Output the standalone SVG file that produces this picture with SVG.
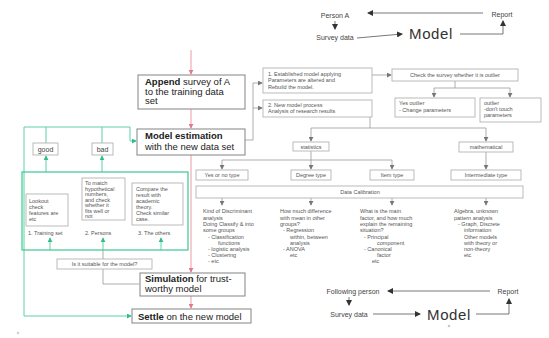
<svg xmlns="http://www.w3.org/2000/svg" width="549" height="338" viewBox="0 0 549 338">
  <style>
    .t { font-family: "Liberation Sans", Arial, sans-serif; fill: #333; }
    .s { font-size: 5.5px; fill: #555; }
    .m { font-size: 9.5px; fill: #222; }
    .b { font-weight: bold; }
    .lbl { font-size: 7px; fill: #444; }
    .big { font-size: 15px; fill: #333; letter-spacing: 0.6px; }
    .box { fill: #fff; stroke: #b3b3b3; stroke-width: 0.9; }
    .mbox { fill: #fff; stroke: #8f8f8f; stroke-width: 1.1; }
    .gbox { fill: none; stroke: #3fc795; stroke-width: 1.2; }
    .c { fill: none; stroke: #9a9a9a; stroke-width: 0.8; }
    .ck { fill: none; stroke: #555; stroke-width: 0.8; }
    .g { fill: none; stroke: #5fd1a6; stroke-width: 1; }
    .r { fill: none; stroke: #ec9aa8; stroke-width: 1; }
  </style>
  <defs>
    <marker id="ag" viewBox="0 0 6 6" refX="5" refY="3" markerWidth="5" markerHeight="5" orient="auto" markerUnits="userSpaceOnUse">
      <path d="M0,0 L6,3 L0,6 z" fill="#777"/>
    </marker>
    <marker id="ak" viewBox="0 0 6 6" refX="5" refY="3" markerWidth="6" markerHeight="6" orient="auto" markerUnits="userSpaceOnUse">
      <path d="M0,0 L6,3 L0,6 z" fill="#333"/>
    </marker>
    <marker id="agr" viewBox="0 0 6 6" refX="5" refY="3" markerWidth="5" markerHeight="5" orient="auto" markerUnits="userSpaceOnUse">
      <path d="M0,0 L6,3 L0,6 z" fill="#2fbf86"/>
    </marker>
    <marker id="ar" viewBox="0 0 6 6" refX="5" refY="3" markerWidth="5" markerHeight="5" orient="auto" markerUnits="userSpaceOnUse">
      <path d="M0,0 L6,3 L0,6 z" fill="#e07a8c"/>
    </marker>
  </defs>

  <!-- connectors -->
  <g id="connectors">
    <!-- top cycle -->
    <line class="ck" x1="483" y1="13" x2="368" y2="13" marker-end="url(#ak)"/>
    <line class="ck" x1="335" y1="21" x2="335" y2="29" marker-end="url(#ak)"/>
    <line class="ck" x1="357" y1="38" x2="402" y2="34" marker-end="url(#ak)"/>
    <polyline class="ck" points="460,34 503,34 503,21" marker-end="url(#ak)"/>
    <!-- main flow -->
    <line class="r" x1="191" y1="50" x2="191" y2="74" marker-end="url(#ar)"/>
    <line class="r" x1="191" y1="109" x2="191" y2="128" marker-end="url(#ar)"/>
    <line class="r" x1="191" y1="155" x2="191" y2="272" marker-end="url(#ar)"/>
    <line class="r" x1="191" y1="296" x2="191" y2="308" marker-end="url(#ar)"/>
    <!-- estimation to analysis boxes -->
    <polyline class="c" points="245,140 253,140 253,83 262,83" marker-end="url(#ag)"/>
    <line class="c" x1="253" y1="108" x2="262" y2="108" marker-end="url(#ag)"/>
    <line class="c" x1="372" y1="75" x2="391" y2="75" marker-end="url(#ag)"/>
    <line class="c" x1="455" y1="81" x2="455" y2="88"/>
    <line class="c" x1="434" y1="88" x2="510" y2="88"/>
    <line class="c" x1="434" y1="88" x2="434" y2="97" marker-end="url(#ag)"/>
    <line class="c" x1="510" y1="88" x2="510" y2="97" marker-end="url(#ag)"/>
    <!-- analysis tree -->
    <line class="c" x1="370" y1="117" x2="370" y2="128"/>
    <line class="c" x1="311" y1="128" x2="486" y2="128"/>
    <line class="c" x1="311" y1="128" x2="311" y2="141" marker-end="url(#ag)"/>
    <line class="c" x1="486" y1="128" x2="486" y2="141" marker-end="url(#ag)"/>
    <line class="c" x1="311" y1="151" x2="311" y2="160"/>
    <line class="c" x1="222" y1="160" x2="392" y2="160"/>
    <line class="c" x1="222" y1="160" x2="222" y2="169" marker-end="url(#ag)"/>
    <line class="c" x1="311" y1="160" x2="311" y2="169" marker-end="url(#ag)"/>
    <line class="c" x1="392" y1="160" x2="392" y2="169" marker-end="url(#ag)"/>
    <line class="c" x1="486" y1="152" x2="486" y2="169" marker-end="url(#ag)"/>
    <line class="c" x1="222" y1="198" x2="222" y2="205" marker-end="url(#ag)"/>
    <line class="c" x1="311" y1="198" x2="311" y2="205" marker-end="url(#ag)"/>
    <line class="c" x1="392" y1="198" x2="392" y2="205" marker-end="url(#ag)"/>
    <line class="c" x1="486" y1="198" x2="486" y2="205" marker-end="url(#ag)"/>
    <!-- evaluation loop -->
    <line class="g" x1="46" y1="172" x2="46" y2="156" marker-end="url(#agr)"/>
    <line class="g" x1="102" y1="172" x2="102" y2="156" marker-end="url(#agr)"/>
    <line class="g" x1="46" y1="143" x2="46" y2="127"/>
    <line class="g" x1="102" y1="143" x2="102" y2="127"/>
    <polyline class="g" points="24,127 130,127 130,141 136,141" marker-end="url(#agr)"/>
    <polyline class="g" points="24,127 24,316 131,316" marker-end="url(#agr)"/>
    <line class="g" x1="50" y1="250" x2="50" y2="238" marker-end="url(#agr)"/>
    <line class="g" x1="103" y1="250" x2="103" y2="238" marker-end="url(#agr)"/>
    <line class="g" x1="161" y1="250" x2="161" y2="238" marker-end="url(#agr)"/>
    <line class="c" x1="103" y1="250" x2="103" y2="259"/>
    <polyline class="c" points="103,269 103,284 139,284"/>
    <!-- bottom cycle -->
    <line class="ck" x1="490" y1="291" x2="388" y2="291" marker-end="url(#ak)"/>
    <line class="ck" x1="349" y1="297" x2="349" y2="305" marker-end="url(#ak)"/>
    <line class="ck" x1="373" y1="314" x2="420" y2="314" marker-end="url(#ak)"/>
    <polyline class="ck" points="476,314 509,314 509,299" marker-end="url(#ak)"/>
  </g>

  <!-- top cycle -->
  <g id="personA"><text class="t lbl" x="335" y="18" text-anchor="middle">Person A</text></g>
  <g id="reportTop"><text class="t lbl" x="502" y="17" text-anchor="middle">Report</text></g>
  <g id="surveyTop"><text class="t lbl" x="335" y="40" text-anchor="middle">Survey data</text></g>
  <g id="modelTop"><text class="t big" x="431" y="39" text-anchor="middle">Model</text></g>

  <!-- main flow -->
  <g id="append">
    <rect class="mbox" x="138" y="75" width="107" height="34"/>
    <text class="t m" x="145" y="85"><tspan class="b">Append</tspan> survey of A</text>
    <text class="t m" x="145" y="94.5">to the training data</text>
    <text class="t m" x="145" y="104">set</text>
  </g>
  <g id="estimation">
    <rect class="mbox" x="137" y="129" width="108" height="26"/>
    <text class="t m b" x="145" y="139">Model estimation</text>
    <text class="t m" x="145" y="149.5">with the new data set</text>
  </g>
  <g id="simulation">
    <rect class="mbox" x="140" y="273" width="105" height="23"/>
    <text class="t m" x="145" y="282"><tspan class="b">Simulation</tspan> for trust-</text>
    <text class="t m" x="145" y="292">worthy model</text>
  </g>
  <g id="settle">
    <rect class="mbox" x="132" y="309" width="119" height="14"/>
    <text class="t m" x="138" y="319.5"><tspan class="b">Settle</tspan> on the new model</text>
  </g>

  <!-- model process boxes -->
  <g id="established">
    <rect class="box" x="263" y="68" width="109" height="25"/>
    <text class="t s" x="268" y="75.5">1. Established model applying</text>
    <text class="t s" x="268" y="82">Parameters are altered and</text>
    <text class="t s" x="268" y="88.5">Rebuild the model.</text>
  </g>
  <g id="newProcess">
    <rect class="box" x="263" y="100" width="109" height="17"/>
    <text class="t s" x="268" y="106.5">2. New model process</text>
    <text class="t s" x="268" y="113">Analysis of research results</text>
  </g>
  <g id="checkOutlier">
    <rect class="box" x="392" y="69" width="126" height="12"/>
    <text class="t s" x="455" y="77" text-anchor="middle">Check the survey whether it is outlier</text>
  </g>
  <g id="yesOutlier">
    <rect class="box" x="395" y="98" width="80" height="19"/>
    <text class="t s" x="399" y="105">Yes outlier</text>
    <text class="t s" x="399" y="112">- Change parameters</text>
  </g>
  <g id="notOutlier">
    <rect class="box" x="480" y="98" width="61" height="24"/>
    <text class="t s" x="484" y="104.5">outlier</text>
    <text class="t s" x="484" y="110.5">-don't touch</text>
    <text class="t s" x="484" y="116.5">parameters</text>
  </g>

  <!-- analysis tree -->
  <g id="statistics">
    <rect class="box" x="293" y="142" width="36" height="9"/>
    <text class="t s" x="311" y="148.5" text-anchor="middle">statistics</text>
  </g>
  <g id="mathematical">
    <rect class="box" x="459" y="142" width="54" height="10"/>
    <text class="t s" x="486" y="149" text-anchor="middle">mathematical</text>
  </g>
  <g id="yesNoType">
    <rect class="box" x="196" y="170" width="52" height="10"/>
    <text class="t s" x="222" y="177" text-anchor="middle">Yes or no type</text>
  </g>
  <g id="degreeType">
    <rect class="box" x="291" y="170" width="40" height="10"/>
    <text class="t s" x="311" y="177" text-anchor="middle">Degree type</text>
  </g>
  <g id="itemType">
    <rect class="box" x="370" y="170" width="44" height="10"/>
    <text class="t s" x="392" y="177" text-anchor="middle">Item type</text>
  </g>
  <g id="intermediateType">
    <rect class="box" x="451" y="170" width="70" height="10"/>
    <text class="t s" x="486" y="177" text-anchor="middle">Intermediate type</text>
  </g>
  <g id="dataCalibration">
    <rect class="box" x="196" y="186" width="327" height="12"/>
    <text class="t s" x="360" y="194" text-anchor="middle">Data Calibration</text>
  </g>

  <g id="discriminant">
    <text class="t s" x="203" y="213">Kind of Discriminant</text>
    <text class="t s" x="203" y="219.5">analysis</text>
    <text class="t s" x="203" y="226">Doing Classify &amp; into</text>
    <text class="t s" x="203" y="232">some groups</text>
    <text class="t s" x="208" y="238.5">-   Classification</text>
    <text class="t s" x="218" y="244.5">functions</text>
    <text class="t s" x="208" y="251">-   logistic analysis</text>
    <text class="t s" x="208" y="257">-   Clustering</text>
    <text class="t s" x="208" y="263">-   etc</text>
  </g>
  <g id="difference">
    <text class="t s" x="280" y="213">How much difference</text>
    <text class="t s" x="280" y="219.5">with mean in other</text>
    <text class="t s" x="280" y="226">groups?</text>
    <text class="t s" x="283" y="232">-  Regression</text>
    <text class="t s" x="290" y="238.5">within, between</text>
    <text class="t s" x="290" y="244.5">analysis</text>
    <text class="t s" x="283" y="251">-  ANOVA</text>
    <text class="t s" x="290" y="257">etc</text>
  </g>
  <g id="factor">
    <text class="t s" x="360" y="213">What is the main</text>
    <text class="t s" x="360" y="219.5">factor, and how much</text>
    <text class="t s" x="360" y="226">explain the remaining</text>
    <text class="t s" x="360" y="232">situation?</text>
    <text class="t s" x="364" y="238.5">-  Principal</text>
    <text class="t s" x="377" y="244.5">component</text>
    <text class="t s" x="364" y="251">-  Canonical</text>
    <text class="t s" x="377" y="257">factor</text>
    <text class="t s" x="372" y="263">etc</text>
  </g>
  <g id="algebra">
    <text class="t s" x="454" y="213">Algebra, unknown</text>
    <text class="t s" x="454" y="219.5">pattern analysis</text>
    <text class="t s" x="458" y="226">-  Graph, Discrete</text>
    <text class="t s" x="464" y="232">information</text>
    <text class="t s" x="464" y="238.5">Other models</text>
    <text class="t s" x="464" y="244.5">with theory or</text>
    <text class="t s" x="464" y="251">non-theory</text>
    <text class="t s" x="464" y="257">etc</text>
  </g>

  <!-- evaluation -->
  <g id="good">
    <rect class="box" x="33" y="143" width="25" height="12"/>
    <text class="t lbl" x="45.5" y="151.5" text-anchor="middle">good</text>
  </g>
  <g id="bad">
    <rect class="box" x="92" y="143" width="21" height="12"/>
    <text class="t lbl" x="102.5" y="151.5" text-anchor="middle">bad</text>
  </g>
  <g id="evaluation">
    <rect class="gbox" x="22" y="172" width="166" height="78"/>
  </g>
  <g id="trainingSet">
    <rect class="box" x="26" y="194" width="42" height="32"/>
    <text class="t s" x="29" y="203">Lookout</text>
    <text class="t s" x="29" y="209">check</text>
    <text class="t s" x="29" y="215">features are</text>
    <text class="t s" x="29" y="221">etc</text>
    <text class="t s" x="28" y="234.5">1. Training set</text>
  </g>
  <g id="persons">
    <rect class="box" x="82" y="178" width="43" height="42"/>
    <text class="t s" x="85" y="185">To match</text>
    <text class="t s" x="85" y="190.5">hypothetical</text>
    <text class="t s" x="85" y="196">numbers,</text>
    <text class="t s" x="85" y="201.5">and check</text>
    <text class="t s" x="85" y="207">whether it</text>
    <text class="t s" x="85" y="212.5">fits well or</text>
    <text class="t s" x="85" y="218">not</text>
    <text class="t s" x="85" y="234.5">2. Persons</text>
  </g>
  <g id="others">
    <rect class="box" x="132" y="183" width="51" height="42"/>
    <text class="t s" x="136" y="191">Compare the</text>
    <text class="t s" x="136" y="197">result with</text>
    <text class="t s" x="136" y="203">academic</text>
    <text class="t s" x="136" y="209">theory.</text>
    <text class="t s" x="136" y="215">Check similar</text>
    <text class="t s" x="136" y="221">case.</text>
    <text class="t s" x="138" y="234.5">3. The others</text>
  </g>
  <g id="suitable">
    <rect class="box" x="57" y="259" width="95" height="10"/>
    <text class="t s" x="104.5" y="266" text-anchor="middle">Is it suitable for the model?</text>
  </g>

  <!-- bottom cycle -->
  <g id="followingPerson"><text class="t lbl" x="353" y="293.5" text-anchor="middle">Following person</text></g>
  <g id="reportBottom"><text class="t lbl" x="508" y="293.5" text-anchor="middle">Report</text></g>
  <g id="surveyBottom"><text class="t lbl" x="349" y="317" text-anchor="middle">Survey data</text></g>
  <g id="modelBottom"><text class="t big" x="449" y="320" text-anchor="middle">Model</text></g>

  <!-- small page marks -->
  <circle cx="449" cy="326" r="1.3" fill="#c8c8c8"/>
  <circle cx="18" cy="333" r="1.3" fill="#d0d0d0"/>
</svg>
